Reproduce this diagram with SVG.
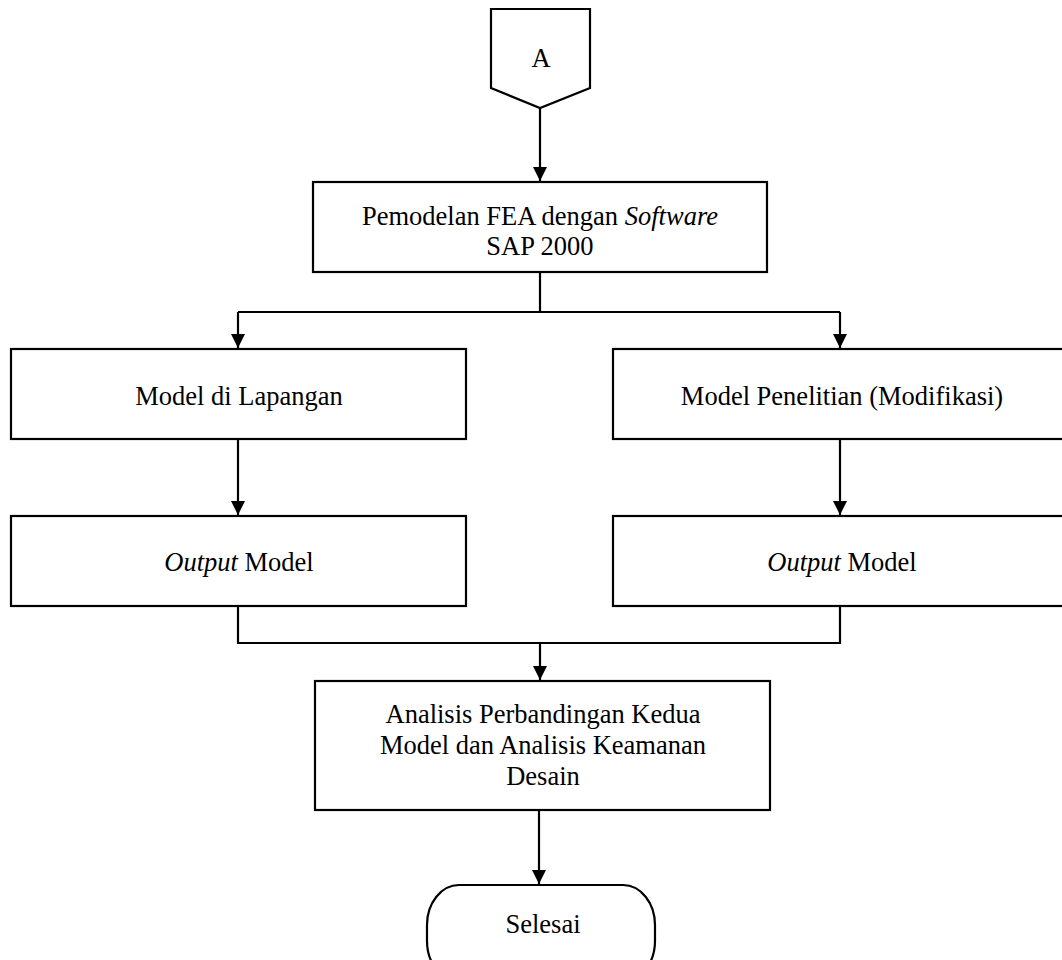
<svg xmlns="http://www.w3.org/2000/svg" width="1062" height="960" viewBox="0 0 1062 960">
<defs>
<marker id="arr" markerUnits="userSpaceOnUse" markerWidth="14" markerHeight="14" viewBox="0 0 14 14" refX="14" refY="7" orient="auto">
<path d="M0,0 L14,7 L0,14 Z" fill="#000"/>
</marker>
<style>
.n{fill:#fff;stroke:#000;stroke-width:2.2}
.c{fill:none;stroke:#000;stroke-width:2.2}
text{font-family:"Liberation Serif","Times New Roman",serif;font-size:26.5px;fill:#000;text-anchor:middle}
.i{font-style:italic}
</style>
</defs>
<rect width="1062" height="960" fill="#fff"/>
<g id="connectors">
<path class="c" d="M540,108 L540,181" marker-end="url(#arr)"/>
<path class="c" d="M540,272 L540,312"/>
<path class="c" d="M238,312 L840,312"/>
<path class="c" d="M238,312 L238,348" marker-end="url(#arr)"/>
<path class="c" d="M840,312 L840,348" marker-end="url(#arr)"/>
<path class="c" d="M238,439 L238,515" marker-end="url(#arr)"/>
<path class="c" d="M840,439 L840,515" marker-end="url(#arr)"/>
<path class="c" d="M238,606 L238,643 L840,643 L840,606"/>
<path class="c" d="M540,643 L540,680" marker-end="url(#arr)"/>
<path class="c" d="M539,810 L539,884" marker-end="url(#arr)"/>
</g>
<g id="nodeA">
<path class="n" d="M491,9 L590,9 L590,88 L540,108 L491,88 Z"/>
<text x="541" y="67">A</text>
</g>
<g id="node1">
<rect class="n" x="313" y="182" width="454" height="90"/>
<text x="540" y="225">Pemodelan FEA dengan <tspan class="i">Software</tspan></text>
<text x="540" y="255">SAP 2000</text>
</g>
<g id="node2">
<rect class="n" x="11" y="349" width="455" height="90"/>
<text x="239" y="405">Model di Lapangan</text>
</g>
<g id="node3">
<rect class="n" x="613" y="349" width="460" height="90"/>
<text x="842" y="405">Model Penelitian (Modifikasi)</text>
</g>
<g id="node4">
<rect class="n" x="11" y="516" width="455" height="90"/>
<text x="239" y="571"><tspan class="i">Output</tspan> Model</text>
</g>
<g id="node5">
<rect class="n" x="613" y="516" width="460" height="90"/>
<text x="842" y="571"><tspan class="i">Output</tspan> Model</text>
</g>
<g id="node6">
<rect class="n" x="315" y="681" width="455" height="129"/>
<text x="543" y="723">Analisis Perbandingan Kedua</text>
<text x="543" y="754">Model dan Analisis Keamanan</text>
<text x="543" y="785">Desain</text>
</g>
<g id="node7">
<rect class="n" x="427" y="885" width="228" height="96" rx="32" ry="40"/>
<text x="543" y="933">Selesai</text>
</g>
</svg>
